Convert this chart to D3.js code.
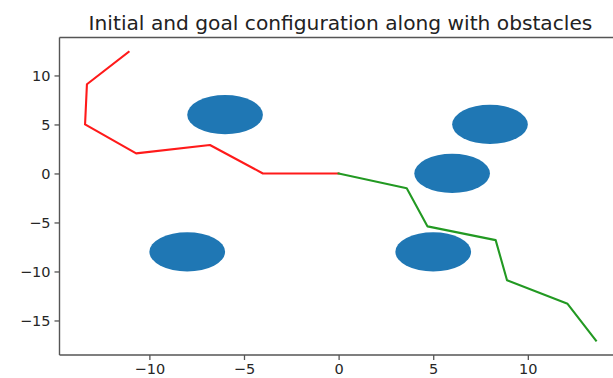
<!DOCTYPE html>
<html>
<head>
<meta charset="utf-8">
<script src="https://cdn.jsdelivr.net/npm/d3@7"></script>
<style>
  html, body { margin: 0; padding: 0; background: #fff; }
  svg { display: block; }
  text { font-family: "DejaVu Sans", sans-serif; }
</style>
</head>
<body>
<svg id="chart" width="613" height="378"></svg>
<script>
// ---- data ----
const title = "Initial and goal configuration along with obstacles";
const redPath = [[-11.1, 12.4], [-13.3, 9.1], [-13.4, 5.0], [-10.7, 2.05], [-6.8, 2.9], [-4.0, 0.0], [0.0, 0.0]];
const greenPath = [[0.0, 0.0], [3.6, -1.5], [4.7, -5.4], [8.3, -6.8], [8.9, -10.9], [12.1, -13.3], [13.6, -17.05]];
const obstacleCenters = [[-6, 6], [-8, -8], [8, 5], [6, 0], [5, -8]];
const obstacleRadius = 2;
const xTicks = [-10, -5, 0, 5, 10];
const yTicks = [-15, -10, -5, 0, 5, 10];

// ---- layout ----
const mLeft = 59.5, mRight = 621.5, mTop = 37.5, mBottom = 355;
const svg = d3.select("#chart");

const allPts = redPath.concat(greenPath);
const xe = d3.extent(allPts, d => d[0]);
const ye = d3.extent(allPts, d => d[1]);
const mx = (xe[1] - xe[0]) * 0.05, my = (ye[1] - ye[0]) * 0.05;
const x = d3.scaleLinear().domain([xe[0] - mx, xe[1] + mx]).range([mLeft, mRight]);
const y = d3.scaleLinear().domain([ye[0] - my, ye[1] + my]).range([mBottom, mTop]);

// obstacles
svg.append("g").selectAll("ellipse").data(obstacleCenters).join("ellipse")
  .attr("cx", d => x(d[0]))
  .attr("cy", d => y(d[1]))
  .attr("rx", x(obstacleRadius) - x(0))
  .attr("ry", y(0) - y(obstacleRadius))
  .attr("fill", "#1f77b4");

const line = d3.line().x(d => x(d[0])).y(d => y(d[1]));
svg.append("path").datum(redPath).attr("d", line)
  .attr("fill", "none").attr("stroke", "#ff1a1a").attr("stroke-width", 2.1)
  .attr("stroke-linejoin", "round").attr("stroke-linecap", "square");
svg.append("path").datum(greenPath).attr("d", line)
  .attr("fill", "none").attr("stroke", "#229922").attr("stroke-width", 2.1)
  .attr("stroke-linejoin", "round").attr("stroke-linecap", "square");

// spines
const spineColor = "#555";
const spines = [
  [mLeft, mTop, mLeft, mBottom],
  [mLeft, mBottom, mRight, mBottom],
  [mLeft, mTop, mRight, mTop],
  [mRight, mTop, mRight, mBottom]
];
svg.append("g").selectAll("line").data(spines).join("line")
  .attr("x1", d => d[0]).attr("y1", d => d[1]).attr("x2", d => d[2]).attr("y2", d => d[3])
  .attr("stroke", spineColor).attr("stroke-width", 1.4);

// axes
const xAxis = d3.axisBottom(x).tickValues(xTicks).tickSize(5).tickPadding(4);
const gx = svg.append("g").attr("transform", `translate(0,${mBottom})`).call(xAxis);
const yAxis = d3.axisLeft(y).tickValues(yTicks).tickSize(5).tickPadding(4);
const gy = svg.append("g").attr("transform", `translate(${mLeft},0)`).call(yAxis);
[gx, gy].forEach(g => {
  g.select(".domain").remove();
  g.selectAll(".tick line").attr("stroke", spineColor).attr("stroke-width", 1.3);
  g.selectAll(".tick text").attr("fill", "#262626")
    .style("font-family", "'DejaVu Sans', sans-serif").style("font-size", "14.5px");
});

// title
svg.append("text").attr("x", (mLeft + mRight) / 2).attr("y", 30)
  .attr("text-anchor", "middle").attr("fill", "#222")
  .style("font-size", "20.2px").text(title);
</script>
</body>
</html>
